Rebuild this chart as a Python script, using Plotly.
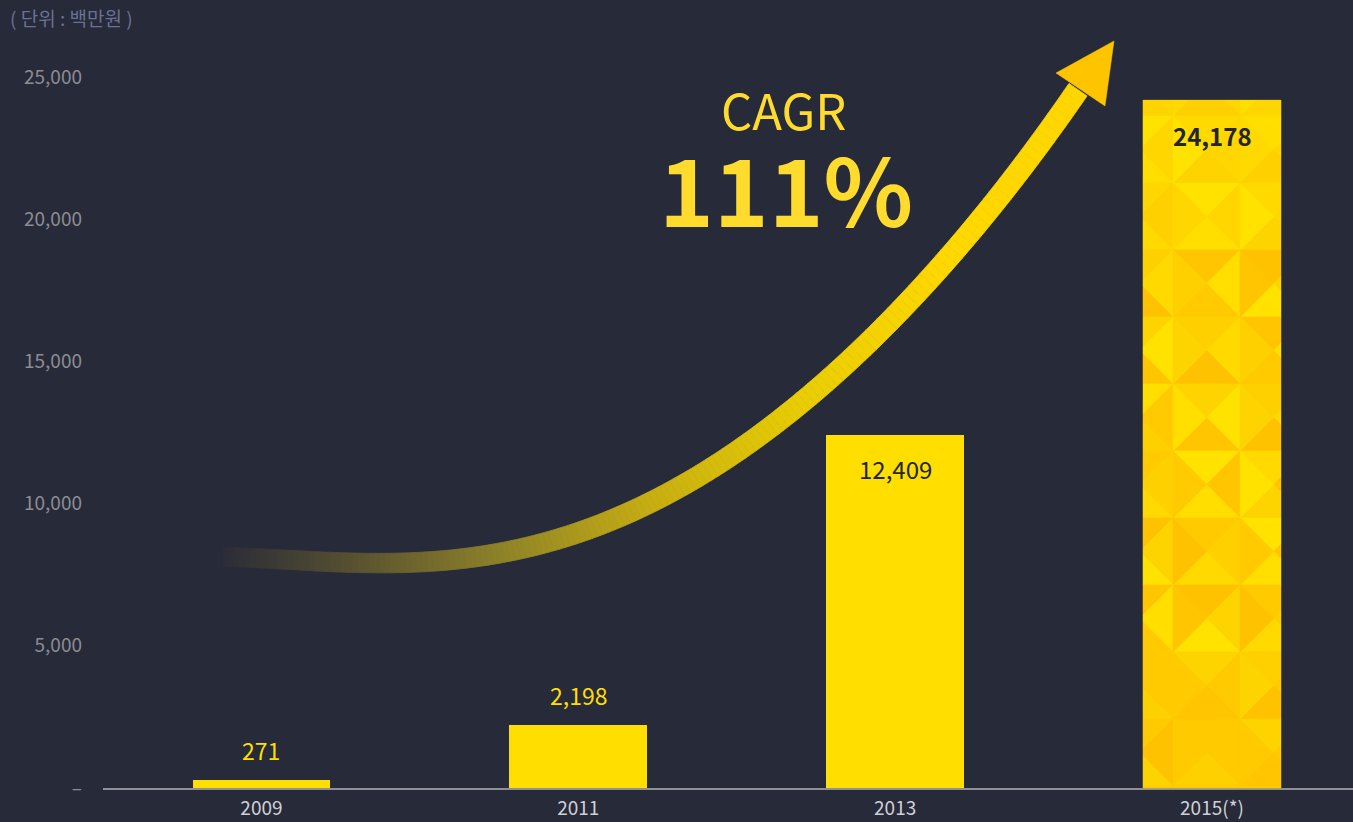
import numpy as np
import plotly.graph_objects as go

# ---------------- data ----------------
years = ["2009", "2011", "2013", "2015(*)"]
values = [271, 2198, 12409, 24178]
value_labels = ["271", "2,198", "12,409", "24,178"]
y_tickvals = [0, 5000, 10000, 15000, 20000, 25000]
y_ticktext = ["–", "5,000", "10,000", "15,000", "20,000", "25,000"]
unit_text = "( 단위 : 백만원 )"
cagr_title = "CAGR"
cagr_value = "111%"

# ---------------- style ----------------
BG = "#272a39"
YEL = "#ffde00"
TXT_YEL = "#ffdb2e"
FONT = "Noto Sans CJK KR, Noto Sans, sans-serif"
W, H = 1353, 822
L, R, T, B = 103, 0, 20, 34
PW, PH = W - L - R, H - T - B
X_RANGE = [-0.5, 3.445]
Y_RANGE = [0, 27000]
BAR_W = 0.435


def px2paper(x, y):
    return (x - L) / PW, (H - B - y) / PH


def x2px(k):
    return L + (k - X_RANGE[0]) / (X_RANGE[1] - X_RANGE[0]) * PW


def y2px(v):
    return (H - B) - (v - Y_RANGE[0]) / (Y_RANGE[1] - Y_RANGE[0]) * PH


def path_from_px(pts):
    pp = [px2paper(x, y) for x, y in pts]
    return "M " + " L ".join(f"{a:.5f},{b:.5f}" for a, b in pp) + " Z"


fig = go.Figure()
fig.add_trace(go.Bar(
    x=years, y=values, width=BAR_W,
    marker=dict(color=[YEL, YEL, YEL, "#ffd400"], line=dict(width=0)),
    hoverinfo="skip",
))

shapes = []

# ---------- mosaic texture on the last bar ----------
def clip(poly, x0, x1, y0, y1):
    def clip_edge(pts, inside, inter):
        out = []
        for i in range(len(pts)):
            cur, prev = pts[i], pts[i - 1]
            if inside(cur):
                if not inside(prev):
                    out.append(inter(prev, cur))
                out.append(cur)
            elif inside(prev):
                out.append(inter(prev, cur))
        return out

    def ix(a, b, xv):
        t = (xv - a[0]) / (b[0] - a[0])
        return (xv, a[1] + t * (b[1] - a[1]))

    def iy(a, b, yv):
        t = (yv - a[1]) / (b[1] - a[1])
        return (a[0] + t * (b[0] - a[0]), yv)

    p = poly
    for inside, inter in [
        (lambda q: q[0] >= x0, lambda a, b: ix(a, b, x0)),
        (lambda q: q[0] <= x1, lambda a, b: ix(a, b, x1)),
        (lambda q: q[1] >= y0, lambda a, b: iy(a, b, y0)),
        (lambda q: q[1] <= y1, lambda a, b: iy(a, b, y1)),
    ]:
        if not p:
            break
        p = clip_edge(p, inside, inter)
    return p


k = 3
bx0, bx1 = x2px(k - BAR_W / 2), x2px(k + BAR_W / 2)
by0, by1 = y2px(values[k]), y2px(0)
palette = ["#ffd900", "#ffd000", "#ffca00", "#ffde00", "#ffc600",
           "#ffe200", "#fdd300", "#ffc200"]
tile = 67
col_edges = [bx0 - 37 + tile * i for i in range(4)]
row_edges = [116 - tile + tile * j for j in range(13)]
for j, ry in enumerate(row_edges):
    for i, cx in enumerate(col_edges):
        cxm, cym = cx + tile / 2, ry + tile / 2
        corners = [(cx, ry), (cx + tile, ry), (cx + tile, ry + tile), (cx, ry + tile)]
        for q in range(4):
            tri = [corners[q], corners[(q + 1) % 4], (cxm, cym)]
            poly = clip(tri, bx0, bx1, by0, by1)
            if len(poly) < 3:
                continue
            idx = (j * 5 + i * 3 + q * 7 + (j // 3) * 2) % len(palette)
            col = palette[idx]
            if j < 3 and idx in (2, 4, 7):
                col = "#ffd600"
            if j > 8 and idx in (0, 3, 5):
                col = "#ffcb00"
            shapes.append(dict(type="path", xref="paper", yref="paper",
                               path=path_from_px(poly), fillcolor=col,
                               line=dict(width=0.6, color=col), layer="above"))

# ---------- growth arrow (decoration) ----------
guide_x = np.array([223, 333, 500, 620, 720, 820, 920, 1027, 1078], dtype=float)
guide_y = np.array([557, 562, 553, 517, 462, 387, 290, 160, 90], dtype=float)
coef = np.polyfit(guide_x, guide_y, 5)
cx_s = np.linspace(223, 1078, 160)
curve = np.stack([cx_s, np.polyval(coef, cx_s)], axis=1)

stops_x = [223, 333, 500, 650, 800, 950, 1100]
stops_c = [(0x2b, 0x2c, 0x37), (0x50, 0x4b, 0x32), (0x8e, 0x82, 0x29),
           (0xc6, 0xae, 0x12), (0xe8, 0xcc, 0x04), (0xff, 0xd8, 0x00), (0xff, 0xd6, 0x00)]


def color_at(x):
    rgb = [int(round(np.interp(x, stops_x, [c[ch] for c in stops_c]))) for ch in range(3)]
    return "rgb({},{},{})".format(*rgb)


tang = np.gradient(curve, axis=0)
tang /= np.linalg.norm(tang, axis=1)[:, None]
norm = np.stack([-tang[:, 1], tang[:, 0]], axis=1)
widths = np.interp(curve[:, 0], [223, 1078], [19, 22])
upper = curve + norm * widths[:, None] / 2
lower = curve - norm * widths[:, None] / 2
for i in range(len(curve) - 1):
    quad = [tuple(upper[i]), tuple(upper[i + 1]), tuple(lower[i + 1]), tuple(lower[i])]
    c = color_at((curve[i, 0] + curve[i + 1, 0]) / 2)
    shapes.append(dict(type="path", xref="paper", yref="paper",
                       path=path_from_px(quad), fillcolor=c,
                       line=dict(width=0.8, color=c), layer="above"))

# arrow head
head = [(1114, 41), (1056, 73), (1105, 106)]
shapes.append(dict(type="path", xref="paper", yref="paper",
                   path=path_from_px(head), fillcolor="#ffc400",
                   line=dict(width=0.5, color="#ffc400"), layer="above"))

# ---------- annotations ----------
annotations = []
for i, (v, lab) in enumerate(zip(values, value_labels)):
    if v < 5000:
        annotations.append(dict(x=i, y=v, xref="x", yref="y", text=lab,
                                showarrow=False, yanchor="bottom", yshift=11,
                                font=dict(family=FONT, size=23, color=YEL)))
    else:
        annotations.append(dict(x=i, y=v, xref="x", yref="y",
                                text=("<b>" + lab + "</b>") if i == 3 else lab,
                                showarrow=False, yanchor="top",
                                yshift=-16 if i == 3 else -14,
                                font=dict(family=FONT, size=24, color="#23252f")))

ux, uy = px2paper(8, 18)
annotations.append(dict(x=ux, y=uy, xref="paper", yref="paper", text=unit_text,
                        showarrow=False, xanchor="left", yanchor="middle",
                        font=dict(family=FONT, size=19, color="#6a7191")))
cx, cy = px2paper(783, 108)
annotations.append(dict(x=cx, y=cy, xref="paper", yref="paper", text=cagr_title,
                        showarrow=False, xanchor="center", yanchor="middle",
                        font=dict(family=FONT, size=49, color=TXT_YEL)))
cx, cy = px2paper(786, 187)
annotations.append(dict(x=cx, y=cy, xref="paper", yref="paper", text="<b>" + cagr_value + "</b>",
                        showarrow=False, xanchor="center", yanchor="middle",
                        font=dict(family=FONT, size=93, color=TXT_YEL)))

fig.update_layout(
    width=W, height=H,
    margin=dict(l=L, r=R, t=T, b=B, pad=0),
    paper_bgcolor=BG, plot_bgcolor=BG,
    showlegend=False,
    bargap=0,
    shapes=shapes,
    annotations=annotations,
    xaxis=dict(type="category", range=X_RANGE, showgrid=False, zeroline=False,
               showline=True, linecolor="#8f8f96", linewidth=2,
               ticks="outside", ticklen=2, tickcolor="rgba(0,0,0,0)",
               tickfont=dict(family=FONT, size=19, color="#cfd0d4")),
    yaxis=dict(range=Y_RANGE, showgrid=False, zeroline=False, showline=False,
               tickvals=y_tickvals, ticktext=y_ticktext,
               ticks="", ticklabelstandoff=20,
               tickfont=dict(family=FONT, size=19, color="#8c8c92")),
)

fig.write_html("out.html", config={"displayModeBar": False},
               post_script="document.body.style.margin='0';document.body.style.background='%s';" % BG)
